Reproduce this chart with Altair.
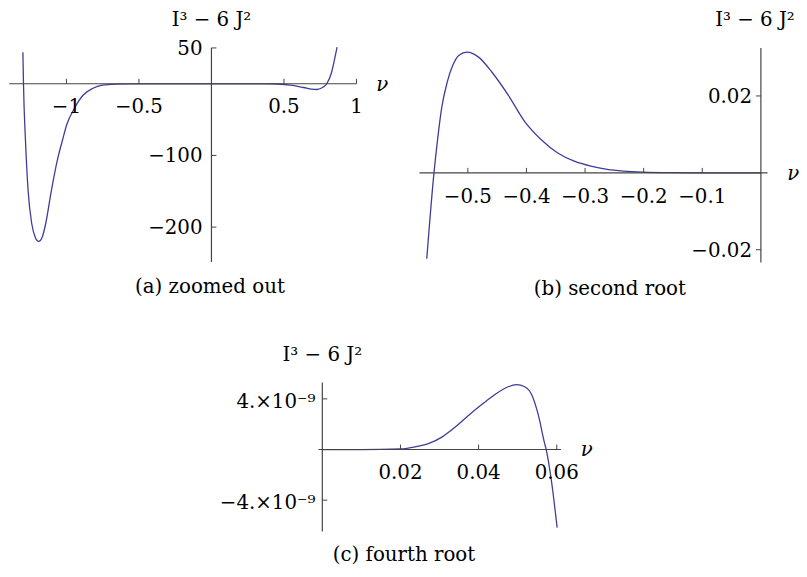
import altair as alt
import pandas as pd

FONT = "DejaVu Serif"
LINE = "#3d3d99"
AXC = "#444444"
FS = 20

# ---------------- data ----------------
# (a) zoomed out
a_nu = [-1.300, -1.296, -1.282, -1.264, -1.239, -1.215, -1.191, -1.167, -1.143,
        -1.104, -1.059, -1.029, -0.998, -0.945, -0.884, -0.820, -0.752, -0.661,
        -0.55, -0.4, -0.2, 0.0, 0.2, 0.4, 0.454, 0.545, 0.636, 0.69, 0.727,
        0.773, 0.795, 0.829, 0.852, 0.866]
a_val = [44.0, 0.0, -80.2, -149.3, -195.3, -214.0, -219.8, -214.0, -195.3,
         -149.3, -103.3, -80.2, -57.2, -34.3, -15.7, -6.6, -2.0, -0.5,
         -0.1, 0.0, 0.0, 0.0, 0.0, 0.0, -0.3, -1.9, -5.2, -7.5, -8.0,
         -4.3, 0.0, 16.4, 37.2, 51.0]
a_xticks = [-1.0, -0.5, 0.5, 1.0]
a_xlabels = ["\u22121", "\u22120.5", "0.5", "1"]
a_yticks = [50, -100, -200]
a_ylabels = ["50", "\u2212100", "\u2212200"]
a_xaxis = [-1.394, 1.0]
a_yaxis = [-248.8, 50.0]

# (b) second root
b_nu = [-0.5701, -0.5578, -0.5520, -0.5448, -0.5351, -0.5257, -0.5155, -0.5014,
        -0.4818, -0.4591, -0.4311, -0.4029, -0.3747, -0.3466, -0.3184, -0.2902,
        -0.2622, -0.2340, -0.2002, -0.15, -0.1, -0.05, 0.0]
b_val = [-0.02234, 0.0, 0.00818, 0.01677, 0.02365, 0.02796, 0.03054, 0.03139,
         0.0301, 0.02623, 0.02022, 0.01334, 0.00861, 0.00516, 0.00302, 0.00173,
         0.00088, 0.00044, 0.00018, 0.00004, 0.0, 0.0, 0.0]
b_xticks = [-0.5, -0.4, -0.3, -0.2, -0.1]
b_xlabels = ["\u22120.5", "\u22120.4", "\u22120.3", "\u22120.2", "\u22120.1"]
b_yticks = [0.02, -0.02]
b_ylabels = ["0.02", "\u22120.02"]
b_xaxis = [-0.5826, 0.0113]
b_yaxis = [-0.02334, 0.03245]

# (c) fourth root
c_nu = [0.0, 0.01, 0.0201, 0.0239, 0.0273, 0.0307, 0.0341, 0.0374, 0.0408,
        0.0442, 0.0476, 0.0497, 0.0518, 0.0535, 0.0552, 0.0569, 0.0573,
        0.0586, 0.0601]
c_val = [0.0, 0.0, 0.05e-9, 0.22e-9, 0.48e-9, 1.0e-9, 1.79e-9, 2.69e-9, 3.55e-9,
         4.35e-9, 4.96e-9, 5.12e-9, 4.96e-9, 4.39e-9, 2.83e-9, 0.48e-9, 0.0,
         -2.39e-9, -6.17e-9]
c_xticks = [0.02, 0.04, 0.06]
c_xlabels = ["0.02", "0.04", "0.06"]
c_yticks = [4e-9, -4e-9]
c_ylabels = ["4.\u00d710\u207b\u2079", "\u22124.\u00d710\u207b\u2079"]
c_xaxis = [-0.001, 0.0611]
c_yaxis = [-6.48e-9, 5.3e-9]

YTITLE = "I\u00b3 \u2212 6 J\u00b2"
XTITLE = "\u03bd"
captions = ["(a) zoomed out", "(b) second root", "(c) fourth root"]


def panel(nu, val, xticks, xlabels, yticks, ylabels, xaxis, yaxis,
          sx, sy, ytick_dir, ylab_dx, ylab_dy, title_dx=0):
    def X(f):
        return alt.X(f, type="quantitative", scale=sx, axis=None)

    def Y(f):
        return alt.Y(f, type="quantitative", scale=sy, axis=None)

    curve = alt.Chart(pd.DataFrame({"nu": nu, "val": val})).mark_line(
        color=LINE, strokeWidth=1.3, interpolate="monotone", clip=False
    ).encode(x=X("nu"), y=Y("val"), order="nu:Q")

    xax = alt.Chart(pd.DataFrame({"x0": [xaxis[0]], "x1": [xaxis[1]], "y0": [0.0]})).mark_rule(
        color=AXC, strokeWidth=1.2
    ).encode(x=X("x0"), x2="x1", y=Y("y0"))
    yax = alt.Chart(pd.DataFrame({"y0": [yaxis[0]], "y1": [yaxis[1]], "x0": [0.0]})).mark_rule(
        color=AXC, strokeWidth=1.2
    ).encode(y=Y("y0"), y2="y1", x=X("x0"))

    xt_df = pd.DataFrame({"t": xticks, "lab": xlabels, "z": [0.0] * len(xticks)})
    yt_df = pd.DataFrame({"t": yticks, "lab": ylabels, "z": [0.0] * len(yticks)})

    xtk = alt.Chart(xt_df).mark_rule(color=AXC, strokeWidth=1, y2Offset=-5).encode(
        x=X("t"), y=Y("z"), y2="z")
    ytk = alt.Chart(yt_df).mark_rule(color=AXC, strokeWidth=1, x2Offset=5 * ytick_dir).encode(
        y=Y("t"), x=X("z"), x2="z")

    xlab = alt.Chart(xt_df).mark_text(
        font=FONT, fontSize=FS, align="center", baseline="middle", dy=24, color="black"
    ).encode(x=X("t"), y=Y("z"), text="lab")
    ylab = alt.Chart(yt_df).mark_text(
        font=FONT, fontSize=FS, align="right", baseline="middle", dx=ylab_dx, dy=ylab_dy,
        color="black"
    ).encode(x=X("z"), y=Y("t"), text="lab")

    ttl_df = pd.DataFrame({"x": [0.0], "y": [yaxis[1]], "lab": [YTITLE]})
    ytitle = alt.Chart(ttl_df).mark_text(
        font=FONT, fontSize=FS, align="center", baseline="middle", dx=title_dx, dy=-28,
        color="black"
    ).encode(x=X("x"), y=Y("y"), text="lab")
    nu_df = pd.DataFrame({"x": [xaxis[1]], "y": [0.0], "lab": [XTITLE]})
    xtitle = alt.Chart(nu_df).mark_text(
        font=FONT, fontSize=FS, fontStyle="italic", align="center", baseline="middle",
        dx=26, dy=1, color="black"
    ).encode(x=X("x"), y=Y("y"), text="lab")

    return alt.layer(curve, xax, yax, xtk, ytk, xlab, ylab, ytitle, xtitle)


def sc(dom, rng):
    return alt.Scale(domain=dom, range=rng, nice=False, zero=False)


pa = panel(a_nu, a_val, a_xticks, a_xlabels, a_yticks, a_ylabels, a_xaxis, a_yaxis,
           sc([-1.0, 1.0], [59.0, 352.0]), sc([-200.0, 50.0], [218.5, 37.5]), 1, -9, 1)
pb = panel(b_nu, b_val, b_xticks, b_xlabels, b_yticks, b_ylabels, b_xaxis, b_yaxis,
           sc([-0.5, 0.0], [464.5, 760.5]), sc([-0.02, 0.02], [241.3, 86.0]), -1, -9, 1,
           title_dx=-6)
pc = panel(c_nu, c_val, c_xticks, c_xlabels, c_yticks, c_ylabels, c_xaxis, c_yaxis,
           sc([0.0, 0.06], [317.5, 554.3]), sc([-4e-9, 4e-9], [494.3, 392.0]), 1, -7, 3)

cap_df = pd.DataFrame({"cap": captions})
cap_a = alt.Chart(cap_df).transform_filter(alt.datum.cap == captions[0]).mark_text(
    font=FONT, fontSize=FS, align="center", baseline="middle", color="black"
).encode(x=alt.value(204), y=alt.value(279), text="cap:N")
cap_b = alt.Chart(cap_df).transform_filter(alt.datum.cap == captions[1]).mark_text(
    font=FONT, fontSize=FS, align="center", baseline="middle", color="black"
).encode(x=alt.value(608), y=alt.value(281), text="cap:N")
cap_c = alt.Chart(cap_df).transform_filter(alt.datum.cap == captions[2]).mark_text(
    font=FONT, fontSize=FS, align="center", baseline="middle", color="black"
).encode(x=alt.value(400), y=alt.value(550), text="cap:N")

chart = alt.layer(pa, pb, pc, cap_a, cap_b, cap_c).resolve_scale(
    x="independent", y="independent"
).properties(
    width=799, height=561, autosize="none", padding=0, background="white"
).configure_view(stroke=None)

chart.save("out.html", embed_options={"renderer": "svg", "actions": False})
